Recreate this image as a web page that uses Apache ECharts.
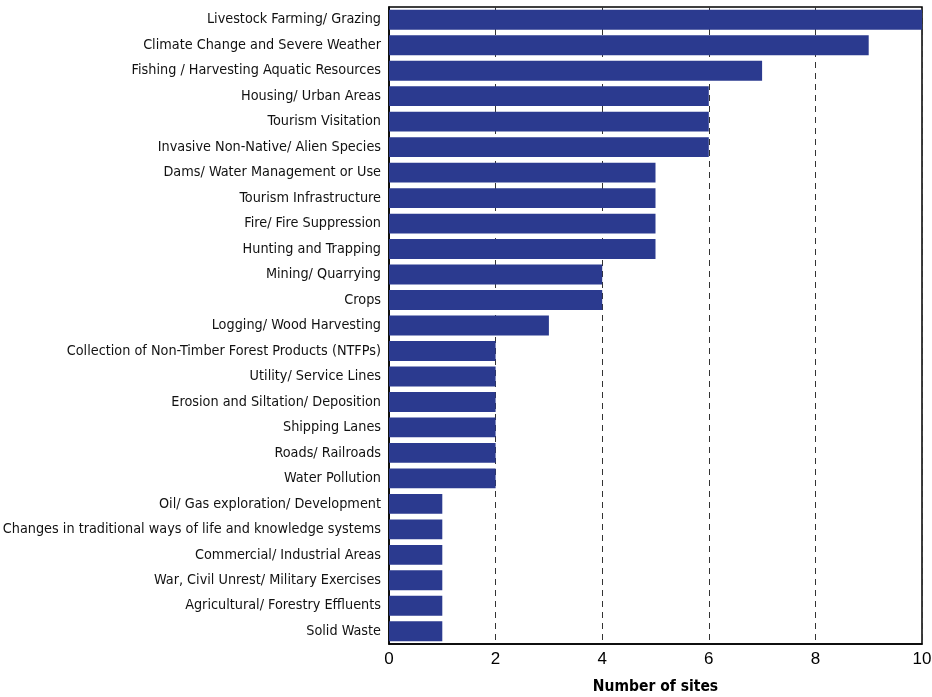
<!DOCTYPE html>
<html>
<head>
<meta charset="utf-8">
<script src="https://cdn.jsdelivr.net/npm/echarts@6/dist/echarts.min.js"></script>
<style>
html, body { margin: 0; padding: 0; background: #fff; }
#chart { width: 932px; height: 697px; }
</style>
</head>
<body>
<div id="chart"></div>
<script>
let threats = [
	"Livestock Farming/ Grazing",
	"Climate Change and Severe Weather",
	"Fishing / Harvesting Aquatic Resources",
	"Housing/ Urban Areas",
	"Tourism Visitation",
	"Invasive Non-Native/ Alien Species",
	"Dams/ Water Management or Use",
	"Tourism Infrastructure",
	"Fire/ Fire Suppression",
	"Hunting and Trapping",
	"Mining/ Quarrying",
	"Crops",
	"Logging/ Wood Harvesting",
	"Collection of Non-Timber Forest Products (NTFPs)",
	"Utility/ Service Lines",
	"Erosion and Siltation/ Deposition",
	"Shipping Lanes",
	"Roads/ Railroads",
	"Water Pollution",
	"Oil/ Gas exploration/ Development",
	"Changes in traditional ways of life and knowledge systems",
	"Commercial/ Industrial Areas",
	"War, Civil Unrest/ Military Exercises",
	"Agricultural/ Forestry Effluents",
	"Solid Waste"
];
let sites = [10, 9, 7, 6, 6, 6, 5, 5, 5, 5, 4, 4, 3, 2, 2, 2, 2, 2, 2, 1, 1, 1, 1, 1, 1];

let narrowFont = "'Liberation Sans Narrow', 'DejaVu Sans Condensed', sans-serif";
let plainFont = "'Liberation Sans', Arial, sans-serif";

var myChart = echarts.init(document.getElementById("chart"));

let option = {
	animation: false,
	textStyle: { fontFamily: narrowFont },
	grid: {
		left: 389,
		right: 10,
		top: 7,
		bottom: 53,
		show: true,
		borderColor: '#000',
		borderWidth: 1.5,
		containLabel: false,
		outerBoundsMode: 'none'
	},
	xAxis: {
		type: 'value',
		min: 0,
		max: 10,
		interval: 2,
		name: 'Number of sites',
		nameLocation: 'middle',
		nameGap: 35,
		nameTextStyle: { fontFamily: narrowFont, fontWeight: 'bold', fontSize: 15.5, color: '#000' },
		axisLine: { show: true, lineStyle: { color: '#000', width: 1.5 } },
		axisTick: { show: false },
		axisLabel: { fontFamily: plainFont, fontSize: 17, color: '#000', margin: 7 },
		splitLine: { show: true, lineStyle: { color: '#333', type: [6, 5], width: 1 } }
	},
	yAxis: {
		type: 'category',
		inverse: true,
		data: threats,
		axisLine: { show: true, lineStyle: { color: '#000', width: 1.5 } },
		axisTick: { show: false },
		axisLabel: { fontFamily: narrowFont, fontSize: 14.3, color: '#111', margin: 8 }
	},
	series: [{
		type: 'bar',
		data: sites,
		barCategoryGap: '22%',
		itemStyle: { color: '#2b3a8f' }
	}]
};

myChart.setOption(option);
</script>
</body>
</html>
